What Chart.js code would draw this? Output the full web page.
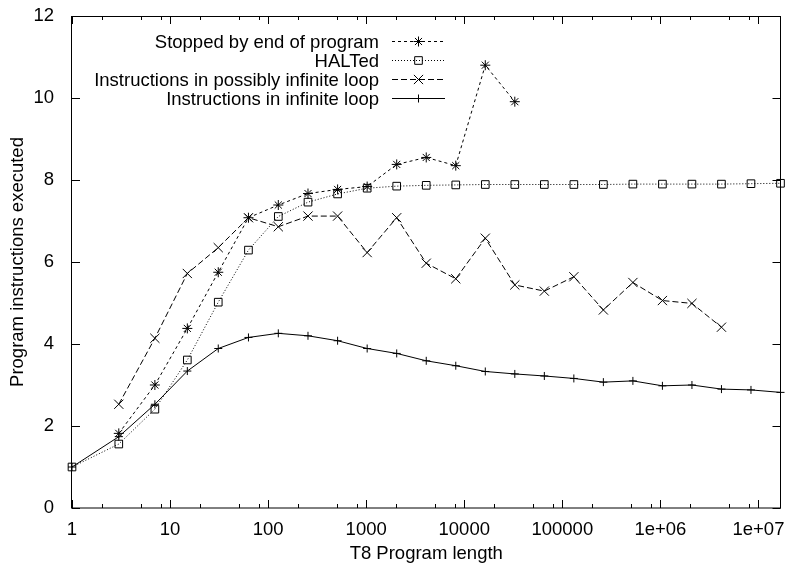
<!DOCTYPE html>
<html>
<head>
<meta charset="utf-8">
<script src="https://cdn.jsdelivr.net/npm/chart.js@4.4.1/dist/chart.umd.min.js"></script>
<style>
    html, body { margin: 0; padding: 0; background: #fff; }
</style>
</head>
<body>
<canvas id="myChart" width="788" height="565"></canvas>
<script>
// Dados
var programLength = [1, 3, 7, 15, 31, 63, 127, 255, 511, 1023, 2047, 4095, 8191, 16383,
    32767, 65535, 131071, 262143, 524287, 1048575, 2097151, 4194303, 8388607, 16777215];

var stoppedByEnd = [null, 1.82, 3.00, 4.38, 5.75, 7.08, 7.39, 7.67, 7.77, 7.84, 8.38, 8.55, 8.35, 10.80, 9.91];
var halted = [1.00, 1.56, 2.41, 3.61, 5.02, 6.29, 7.11, 7.46, 7.66, 7.80, 7.85, 7.87, 7.88, 7.89,
    7.89, 7.89, 7.89, 7.89, 7.90, 7.90, 7.90, 7.90, 7.91, 7.92];
var possiblyInfinite = [null, 2.53, 4.14, 5.72, 6.35, 7.08, 6.86, 7.12, 7.12, 6.23, 7.08, 5.97, 5.59, 6.58,
    5.44, 5.29, 5.64, 4.83, 5.50, 5.06, 4.99, 4.41];
var infiniteLoop = [1.00, 1.74, 2.53, 3.34, 3.89, 4.16, 4.26, 4.20, 4.08, 3.89, 3.77, 3.59, 3.47, 3.33,
    3.27, 3.22, 3.16, 3.07, 3.10, 2.98, 3.00, 2.90, 2.88, 2.82];

var seriesNames = ['Stopped by end of program', 'HALTed',
    'Instructions in possibly infinite loop', 'Instructions in infinite loop'];

var xTickValues = [1, 10, 100, 1000, 10000, 100000, 1000000, 10000000];
var xTickLabels = ['1', '10', '100', '1000', '10000', '100000', '1e+06', '1e+07'];
var xMinorSteps = [2, 5, 8];
var xMin = 1, xMax = 16777215;
var yMin = 0, yMax = 12, yStep = 2;

var FONT = '"Liberation Sans", Arial, Helvetica, sans-serif';
var FSIZE = 18.5;

function pares(valores) {
    let out = [];
    for (let i = 0; i < valores.length; i++) {
        if (valores[i] != null) out.push({ x: programLength[i], y: valores[i] });
    }
    return out;
}

// Moldura, marcas internas e legenda no estilo gnuplot
const gnuplotFrame = {
    id: 'gnuplotFrame',
    afterDraw(chart) {
        const ctx = chart.ctx;
        const a = chart.chartArea;
        const sx = chart.scales.x, sy = chart.scales.y;
        ctx.save();
        ctx.strokeStyle = '#000';
        ctx.lineWidth = 1;
        ctx.setLineDash([]);
        ctx.strokeRect(a.left - 0.5, a.top + 0.5, a.right - a.left + 0.5, a.bottom - a.top - 0.5);

        function seg(x1, y1, x2, y2) {
            ctx.beginPath(); ctx.moveTo(x1, y1); ctx.lineTo(x2, y2); ctx.stroke();
        }
        sx.ticks.forEach(t => {
            let px = Math.round(sx.getPixelForValue(t.value)) + 0.5;
            let len = t.major ? 8 : 4;
            seg(px, a.bottom, px, a.bottom - len);
            seg(px, a.top, px, a.top + len);
        });
        sy.ticks.forEach(t => {
            let py = Math.round(sy.getPixelForValue(t.value)) + 0.5;
            seg(a.left, py, a.left + 8, py);
            seg(a.right, py, a.right - 8, py);
        });

        // legenda
        ctx.font = FSIZE + 'px ' + FONT;
        ctx.fillStyle = '#000';
        ctx.textAlign = 'right';
        ctx.textBaseline = 'middle';
        chart.data.datasets.forEach((ds, i) => {
            let ry = 41.5 + i * 19;
            ctx.fillText(ds.label, 379, ry + 1);
            ctx.setLineDash(ds.borderDash || []);
            seg(392, ry, 445, ry);
            ctx.setLineDash([]);
            ctx.fillStyle = 'rgba(0,0,0,0)';
            Chart.helpers.drawPoint(ctx, {
                pointStyle: ds.pointStyle, radius: ds.pointRadius, rotation: 0, borderWidth: 1
            }, 418.5, ry);
            ctx.fillStyle = '#000';
        });
        ctx.restore();
    }
};

function serie(label, valores, estilo, raio, traco) {
    return {
        label: label,
        data: pares(valores),
        borderColor: '#000',
        borderWidth: 1,
        borderDash: traco,
        pointStyle: estilo,
        pointRadius: raio,
        pointBorderColor: '#000',
        pointBackgroundColor: 'rgba(0,0,0,0)',
        pointBorderWidth: 1,
        tension: 0,
        clip: false
    };
}

const ctx = document.getElementById('myChart').getContext('2d');
const myChart = new Chart(ctx, {
    type: 'line',
    data: {
        datasets: [
            serie(seriesNames[0], stoppedByEnd, 'star', 5, [3, 3]),
            serie(seriesNames[1], halted, 'rect', 5.4, [1, 2]),
            serie(seriesNames[2], possiblyInfinite, 'crossRot', 6.5, [6, 3]),
            serie(seriesNames[3], infiniteLoop, 'cross', 4, [])
        ]
    },
    options: {
        responsive: false,
        animation: false,
        devicePixelRatio: 1,
        layout: { padding: { top: 16, right: 5, left: 0, bottom: 0 } },
        scales: {
            x: {
                type: 'logarithmic',
                min: xMin,
                max: xMax,
                grid: { display: false },
                border: { display: false },
                afterBuildTicks: function (scale) {
                    let ticks = [];
                    xTickValues.forEach(v => {
                        ticks.push({ value: v, major: true });
                        xMinorSteps.forEach(m => {
                            if (v * m <= xMax) ticks.push({ value: v * m, major: false });
                        });
                    });
                    scale.ticks = ticks;
                },
                ticks: {
                    autoSkip: false,
                    maxRotation: 0,
                    padding: 3,
                    color: '#000',
                    font: { family: FONT, size: FSIZE },
                    callback: function (value) {
                        let k = xTickValues.indexOf(value);
                        return k >= 0 ? xTickLabels[k] : '';
                    }
                },
                title: {
                    display: true,
                    text: 'T8 Program length',
                    color: '#000',
                    font: { family: FONT, size: FSIZE },
                    padding: { top: 0, bottom: 0 }
                },
                afterFit: function (scale) {
                    scale.height = 57;
                    scale.paddingLeft = 0;
                    scale.paddingRight = 0;
                }
            },
            y: {
                min: yMin,
                max: yMax,
                grid: { display: false },
                border: { display: false },
                ticks: {
                    stepSize: yStep,
                    padding: 10,
                    color: '#000',
                    font: { family: FONT, size: FSIZE }
                },
                title: {
                    display: true,
                    text: 'Program instructions executed',
                    color: '#000',
                    font: { family: FONT, size: FSIZE },
                    padding: { top: 7, bottom: 0 }
                },
                afterFit: function (scale) {
                    scale.width = 72;
                    scale.paddingTop = 0;
                    scale.paddingBottom = 0;
                }
            }
        },
        plugins: {
            legend: { display: false },
            tooltip: { enabled: false }
        }
    },
    plugins: [gnuplotFrame]
});
</script>
</body>
</html>
